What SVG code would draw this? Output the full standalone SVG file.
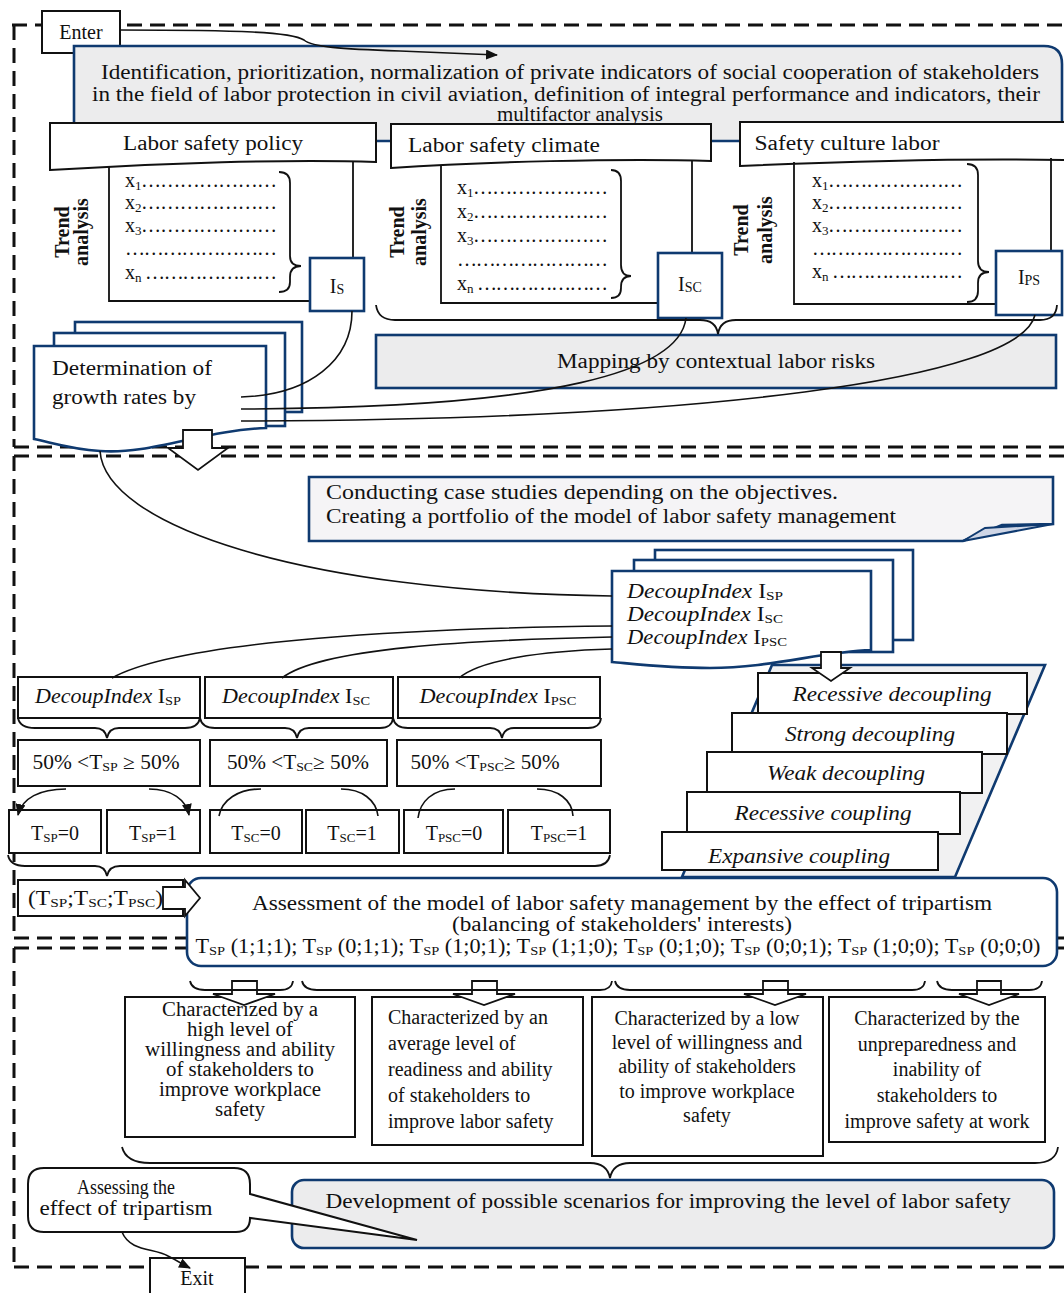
<svg xmlns="http://www.w3.org/2000/svg" width="1064" height="1293" viewBox="0 0 1064 1293">
<defs>
<style>
.t{font-family:"Liberation Serif","Times New Roman",serif;font-size:20px;fill:#111}
.c{text-anchor:middle}
.i{font-style:italic}
.b{font-weight:bold}
.s{font-size:13px}
.box{fill:#fff;stroke:#111;stroke-width:2}
.bl{fill:#fff;stroke:#0f3a70;stroke-width:2.6}
.gr{fill:#ececed}
.conn{fill:none;stroke:#111;stroke-width:1.6}
.dash{fill:none;stroke:#111;stroke-width:3;stroke-dasharray:15 8}
.br{fill:none;stroke:#111;stroke-width:1.8}
.ba{fill:#fff;stroke:#111;stroke-width:1.8}
</style>
<marker id="ah" viewBox="0 0 12 10" refX="11" refY="5" markerWidth="12" markerHeight="10" markerUnits="userSpaceOnUse" orient="auto"><path d="M0,0 L12,5 L0,10 Z" fill="#111"/></marker>
</defs>
<rect width="1064" height="1293" fill="#fff"/>

<g id="frames">
<path class="dash" d="M12,25 H1064 M14,25 V447 M14,447 H1064"/>
<path class="dash" d="M14,456 H1064 M14,456 V938 M14,938 H1064"/>
<path class="dash" d="M14,948 H1064 M14,948 V1267 M14,1267 H1064"/>
</g>

<g id="enter"><rect class="box" x="42" y="11" width="78" height="42"/><text class="t c" x="81" y="39">Enter</text></g>

<g id="title">
<path class="bl gr" d="M74,46 H1044 Q1062,46 1062,64 V141 H74 Z"/>
<text class="t c" x="570" y="79" font-size="21" textLength="938" lengthAdjust="spacingAndGlyphs">Identification, prioritization, normalization of private indicators of social cooperation of stakeholders</text>
<text class="t c" x="566" y="101" font-size="21" textLength="948" lengthAdjust="spacingAndGlyphs">in the field of labor protection in civil aviation, definition of integral performance and indicators, their</text>
<text class="t c" x="580" y="121" font-size="21" textLength="166" lengthAdjust="spacingAndGlyphs">multifactor analysis</text>
</g>

<g id="policy">
<path class="box" d="M50,123 H376 V162 C290,159 160,163 50,170 Z"/>
<text class="t c" x="213" y="150" font-size="22" textLength="180" lengthAdjust="spacingAndGlyphs">Labor safety policy</text>
<path class="br" d="M109,166 V301 H310 M353,162 V258"/>
<text class="t b" transform="translate(69,232) rotate(-90)" text-anchor="middle" font-size="21">Trend</text>
<text class="t b" transform="translate(88,232) rotate(-90)" text-anchor="middle" font-size="21">analysis</text>
<text class="t" x="125" y="187">x<tspan class="s" dy="3">1</tspan></text>
<text class="t" x="141" y="187" textLength="136" lengthAdjust="spacing">…………………</text>
<text class="t" x="125" y="209">x<tspan class="s" dy="3">2</tspan></text>
<text class="t" x="141" y="209" textLength="136" lengthAdjust="spacing">…………………</text>
<text class="t" x="125" y="232">x<tspan class="s" dy="3">3</tspan></text>
<text class="t" x="141" y="232" textLength="136" lengthAdjust="spacing">…………………</text>
<text class="t" x="125" y="255" textLength="152" lengthAdjust="spacing">……………………</text>
<text class="t" x="125" y="279">x<tspan class="s" dy="3">n</tspan></text>
<text class="t" x="145" y="279" textLength="132" lengthAdjust="spacing">…………………</text>
<path class="br" d="M279,172 Q290,172 290,183 V256 Q290,266 301,266 Q290,266 290,277 V282 Q290,292 279,292"/>
<rect class="bl" x="310" y="258" width="54" height="53"/>
<text class="t c" x="337" y="293" font-size="22">I<tspan font-size="14" dy="1">S</tspan></text>
</g>

<g id="climate">
<path class="box" d="M391,124 H711 V161 C620,158 480,162 391,168 Z"/>
<text class="t c" x="504" y="152" font-size="22" textLength="192" lengthAdjust="spacingAndGlyphs">Labor safety climate</text>
<path class="br" d="M441,165 V303 H658 M692,160 V253"/>
<text class="t b" transform="translate(404,232) rotate(-90)" text-anchor="middle" font-size="21">Trend</text>
<text class="t b" transform="translate(426,232) rotate(-90)" text-anchor="middle" font-size="21">analysis</text>
<text class="t" x="457" y="194">x<tspan class="s" dy="3">1</tspan></text>
<text class="t" x="473" y="194" textLength="135" lengthAdjust="spacing">…………………</text>
<text class="t" x="457" y="218">x<tspan class="s" dy="3">2</tspan></text>
<text class="t" x="473" y="218" textLength="135" lengthAdjust="spacing">…………………</text>
<text class="t" x="457" y="242">x<tspan class="s" dy="3">3</tspan></text>
<text class="t" x="473" y="242" textLength="135" lengthAdjust="spacing">…………………</text>
<text class="t" x="457" y="266" textLength="151" lengthAdjust="spacing">……………………</text>
<text class="t" x="457" y="290">x<tspan class="s" dy="3">n</tspan></text>
<text class="t" x="477" y="290" textLength="131" lengthAdjust="spacing">…………………</text>
<path class="br" d="M611,170 Q621,170 621,181 V265 Q621,276 631,276 Q621,276 621,287 V288 Q621,298 611,298"/>
<rect class="bl" x="658" y="253" width="64" height="65"/>
<text class="t c" x="690" y="291" font-size="22">I<tspan font-size="14" dy="1">SC</tspan></text>
</g>

<g id="culture">
<path class="box" d="M740,122 H1066 V160 C950,158 830,162 740,166 Z"/>
<text class="t c" x="847" y="150" font-size="22" textLength="185" lengthAdjust="spacingAndGlyphs">Safety culture labor</text>
<path class="br" d="M794,162 V304 H996 M1051,158 V251"/>
<text class="t b" transform="translate(748,230) rotate(-90)" text-anchor="middle" font-size="21">Trend</text>
<text class="t b" transform="translate(772,230) rotate(-90)" text-anchor="middle" font-size="21">analysis</text>
<text class="t" x="812" y="187">x<tspan class="s" dy="3">1</tspan></text>
<text class="t" x="828" y="187" textLength="135" lengthAdjust="spacing">…………………</text>
<text class="t" x="812" y="209">x<tspan class="s" dy="3">2</tspan></text>
<text class="t" x="828" y="209" textLength="135" lengthAdjust="spacing">…………………</text>
<text class="t" x="812" y="232">x<tspan class="s" dy="3">3</tspan></text>
<text class="t" x="828" y="232" textLength="135" lengthAdjust="spacing">…………………</text>
<text class="t" x="812" y="255" textLength="151" lengthAdjust="spacing">……………………</text>
<text class="t" x="812" y="278">x<tspan class="s" dy="3">n</tspan></text>
<text class="t" x="832" y="278" textLength="131" lengthAdjust="spacing">…………………</text>
<path class="br" d="M967,164 Q978,164 978,175 V261 Q978,272 989,272 Q978,272 978,283 V291 Q978,302 967,302"/>
<rect class="bl" x="996" y="251" width="66" height="64"/>
<text class="t c" x="1029" y="284" font-size="22">I<tspan font-size="14" dy="1">PS</tspan></text>
</g>

<g id="mapping">
<rect class="bl gr" x="376" y="335" width="680" height="53"/>
<text class="t c" x="716" y="368" font-size="22" textLength="318" lengthAdjust="spacingAndGlyphs">Mapping by contextual labor risks</text>
</g>

<g id="growth">
<rect class="bl" x="75" y="322" width="227" height="90"/>
<rect class="bl" x="54" y="333" width="231" height="93"/>
<path class="bl" d="M34,346 H266 V428 C205,430 150,455 100,451 C70,449 50,442 34,439 Z"/>
<text class="t" x="52" y="375" font-size="21" textLength="160" lengthAdjust="spacingAndGlyphs">Determination of</text>
<text class="t" x="52" y="404" font-size="21" textLength="144" lengthAdjust="spacingAndGlyphs">growth rates by</text>
</g>

<g id="casestudies">
<path class="bl" style="fill:#f5f4f6" d="M309,477 H1053 V524 L1002,525 L963,541 H309 Z"/>
<path fill="#cfd6e6" stroke="#0f3a70" stroke-width="2" d="M963,541 L985,528 L1053,524 Z"/>
<text class="t" x="326" y="499" textLength="512" lengthAdjust="spacingAndGlyphs">Conducting case studies depending on the objectives.</text>
<text class="t" x="326" y="523" textLength="570" lengthAdjust="spacingAndGlyphs">Creating a portfolio of the model of labor safety management</text>
</g>

<g id="decoupstack">
<rect class="bl" x="655" y="550" width="258" height="90"/>
<rect class="bl" x="634" y="560" width="259" height="92"/>
<path class="bl" d="M612,571 H871 V650 C820,652 770,668 710,668 C670,668 635,664 612,662 Z"/>
<text class="t" x="627" y="598" textLength="156" lengthAdjust="spacingAndGlyphs"><tspan class="i">DecoupIndex</tspan> I<tspan class="s" dy="2">SP</tspan></text>
<text class="t" x="627" y="621" textLength="156" lengthAdjust="spacingAndGlyphs"><tspan class="i">DecoupIndex</tspan> I<tspan class="s" dy="2">SC</tspan></text>
<text class="t" x="627" y="644" textLength="160" lengthAdjust="spacingAndGlyphs"><tspan class="i">DecoupIndex</tspan> I<tspan class="s" dy="2">PSC</tspan></text>
</g>

<g id="coupling">
<path class="bl" style="fill:#f1f1f2" d="M772,665 H1045 L955,877 H682 Z"/>
<rect class="box" x="758" y="673" width="269" height="41"/>
<text class="t i c" x="892" y="701" font-size="22" textLength="199" lengthAdjust="spacingAndGlyphs">Recessive decoupling</text>
<rect class="box" x="732" y="713" width="275" height="41"/>
<text class="t i c" x="870" y="741" font-size="22" textLength="170" lengthAdjust="spacingAndGlyphs">Strong decoupling</text>
<rect class="box" x="707" y="752" width="275" height="41"/>
<text class="t i c" x="846" y="780" font-size="22" textLength="158" lengthAdjust="spacingAndGlyphs">Weak decoupling</text>
<rect class="box" x="687" y="792" width="273" height="42"/>
<text class="t i c" x="823" y="820" font-size="22" textLength="177" lengthAdjust="spacingAndGlyphs">Recessive coupling</text>
<rect class="box" x="662" y="832" width="276" height="38"/>
<text class="t i c" x="799" y="863" font-size="22" textLength="182" lengthAdjust="spacingAndGlyphs">Expansive coupling</text>
</g>

<g id="decoupboxes">
<rect class="box" x="18" y="677" width="182" height="41"/>
<text class="t c" x="108" y="703" textLength="146" lengthAdjust="spacingAndGlyphs"><tspan class="i">DecoupIndex</tspan> I<tspan class="s" dy="2">SP</tspan></text>
<rect class="box" x="205" y="677" width="188" height="41"/>
<text class="t c" x="296" y="703" textLength="148" lengthAdjust="spacingAndGlyphs"><tspan class="i">DecoupIndex</tspan> I<tspan class="s" dy="2">SC</tspan></text>
<rect class="box" x="398" y="677" width="202" height="41"/>
<text class="t c" x="498" y="703" textLength="157" lengthAdjust="spacingAndGlyphs"><tspan class="i">DecoupIndex</tspan> I<tspan class="s" dy="2">PSC</tspan></text>

<rect class="box" x="18" y="740" width="182" height="46"/>
<text class="t c" x="106" y="769" textLength="147" lengthAdjust="spacingAndGlyphs">50% &lt;T<tspan class="s" dy="2">SP</tspan><tspan dy="-2"> ≥ 50%</tspan></text>
<rect class="box" x="210" y="740" width="177" height="46"/>
<text class="t c" x="298" y="769" textLength="142" lengthAdjust="spacingAndGlyphs">50% &lt;T<tspan class="s" dy="2">SC</tspan><tspan dy="-2">≥ 50%</tspan></text>
<rect class="box" x="397" y="740" width="204" height="46"/>
<text class="t c" x="485" y="769" textLength="149" lengthAdjust="spacingAndGlyphs">50% &lt;T<tspan class="s" dy="2">PSC</tspan><tspan dy="-2">≥ 50%</tspan></text>

<rect class="box" x="9" y="810" width="92" height="43"/>
<text class="t c" x="55" y="840">T<tspan class="s" dy="2">SP</tspan><tspan dy="-2">=0</tspan></text>
<rect class="box" x="107" y="810" width="93" height="43"/>
<text class="t c" x="153" y="840">T<tspan class="s" dy="2">SP</tspan><tspan dy="-2">=1</tspan></text>
<rect class="box" x="210" y="810" width="92" height="43"/>
<text class="t c" x="256" y="840">T<tspan class="s" dy="2">SC</tspan><tspan dy="-2">=0</tspan></text>
<rect class="box" x="306" y="810" width="93" height="43"/>
<text class="t c" x="352" y="840">T<tspan class="s" dy="2">SC</tspan><tspan dy="-2">=1</tspan></text>
<rect class="box" x="404" y="810" width="99" height="43"/>
<text class="t c" x="454" y="840">T<tspan class="s" dy="2">PSC</tspan><tspan dy="-2">=0</tspan></text>
<rect class="box" x="508" y="810" width="102" height="43"/>
<text class="t c" x="559" y="840">T<tspan class="s" dy="2">PSC</tspan><tspan dy="-2">=1</tspan></text>
</g>

<g id="tuple">
<rect class="box" x="18" y="880" width="165" height="36"/>
<text class="t" x="28" y="905" textLength="135" lengthAdjust="spacingAndGlyphs">(T<tspan class="s" dy="2">SP</tspan><tspan dy="-2">;T</tspan><tspan class="s" dy="2">SC</tspan><tspan dy="-2">;T</tspan><tspan class="s" dy="2">PSC</tspan><tspan dy="-2">)</tspan></text>
</g>

<g id="assessment">
<rect class="bl" x="187" y="878" width="870" height="88" rx="14"/>
<text class="t c" x="622" y="910" font-size="21" textLength="740" lengthAdjust="spacingAndGlyphs">Assessment of the model of labor safety management by the effect of tripartism</text>
<text class="t c" x="622" y="931" font-size="21" textLength="340" lengthAdjust="spacingAndGlyphs">(balancing of stakeholders' interests)</text>
<text class="t c" x="618" y="953" font-size="21" textLength="845" lengthAdjust="spacingAndGlyphs">T<tspan class="s" dy="2">SP</tspan><tspan dy="-2"> (1;1;1); T</tspan><tspan class="s" dy="2">SP</tspan><tspan dy="-2"> (0;1;1); T</tspan><tspan class="s" dy="2">SP</tspan><tspan dy="-2"> (1;0;1); T</tspan><tspan class="s" dy="2">SP</tspan><tspan dy="-2"> (1;1;0); T</tspan><tspan class="s" dy="2">SP</tspan><tspan dy="-2"> (0;1;0); T</tspan><tspan class="s" dy="2">SP</tspan><tspan dy="-2"> (0;0;1); T</tspan><tspan class="s" dy="2">SP</tspan><tspan dy="-2"> (1;0;0); T</tspan><tspan class="s" dy="2">SP</tspan><tspan dy="-2"> (0;0;0)</tspan></text>
</g>

<g id="level1">
<rect class="box" x="125" y="997" width="230" height="140"/>
<text class="t c" font-size="16" x="240" y="1016" textLength="156" lengthAdjust="spacingAndGlyphs">Characterized by a</text>
<text class="t c" font-size="16" x="240" y="1036" textLength="106" lengthAdjust="spacingAndGlyphs">high level of</text>
<text class="t c" font-size="16" x="240" y="1056" textLength="190" lengthAdjust="spacingAndGlyphs">willingness and ability</text>
<text class="t c" font-size="16" x="240" y="1076" textLength="148" lengthAdjust="spacingAndGlyphs">of stakeholders to</text>
<text class="t c" font-size="16" x="240" y="1096" textLength="162" lengthAdjust="spacingAndGlyphs">improve workplace</text>
<text class="t c" font-size="16" x="240" y="1116" textLength="50" lengthAdjust="spacingAndGlyphs">safety</text>
</g>
<g id="level2">
<rect class="box" x="372" y="997" width="211" height="148"/>
<text class="t" font-size="21" x="388" y="1024">Characterized by an</text>
<text class="t" font-size="21" x="388" y="1050">average level of</text>
<text class="t" font-size="21" x="388" y="1076">readiness and ability</text>
<text class="t" font-size="21" x="388" y="1102">of stakeholders to</text>
<text class="t" font-size="21" x="388" y="1128">improve labor safety</text>
</g>
<g id="level3">
<rect class="box" x="592" y="997" width="231" height="159"/>
<text class="t c" font-size="21" x="707" y="1025">Characterized by a low</text>
<text class="t c" font-size="21" x="707" y="1049">level of willingness and</text>
<text class="t c" font-size="21" x="707" y="1073">ability of stakeholders</text>
<text class="t c" font-size="21" x="707" y="1098">to improve workplace</text>
<text class="t c" font-size="21" x="707" y="1122">safety</text>
</g>
<g id="level4">
<rect class="box" x="829" y="997" width="216" height="145"/>
<text class="t c" font-size="21" x="937" y="1025">Characterized by the</text>
<text class="t c" font-size="21" x="937" y="1051">unpreparedness and</text>
<text class="t c" font-size="21" x="937" y="1076">inability of</text>
<text class="t c" font-size="21" x="937" y="1102">stakeholders to</text>
<text class="t c" font-size="21" x="937" y="1128">improve safety at work</text>
</g>

<g id="development">
<rect class="bl gr" x="292" y="1180" width="762" height="68" rx="12"/>
<text class="t c" x="668" y="1208" font-size="21" textLength="685" lengthAdjust="spacingAndGlyphs">Development of possible scenarios for improving the level of labor safety</text>
</g>

<g id="assessing">
<path class="box" d="M44,1168 H234 Q250,1168 250,1184 V1194 L417,1240 L250,1218 Q250,1232 236,1232 H44 Q28,1232 28,1216 V1184 Q28,1168 44,1168 Z"/>
<text class="t c" x="126" y="1194" font-size="21" textLength="98" lengthAdjust="spacingAndGlyphs">Assessing the</text>
<text class="t c" x="126" y="1215" font-size="21" textLength="173" lengthAdjust="spacingAndGlyphs">effect of tripartism</text>
</g>

<g id="exit"><rect class="box" x="150" y="1258" width="95" height="40"/><text class="t c" x="197" y="1285">Exit</text></g>

<g id="blockarrows">
<path class="ba" d="M183,430 H212 V448 H228 L198,470 L168,448 H183 Z"/>
<path class="ba" d="M821,652 H841 V668 H850 L831,681 L812,668 H821 Z"/>
<path class="ba" d="M163,887 H185 V880 L200,898 L185,916 V909 H163 Z"/>
<path class="ba" d="M232,981 H257 V994 H275 L244,1005 L213,994 H232 Z"/>
<path class="ba" d="M472,981 H497 V994 H515 L484,1005 L453,994 H472 Z"/>
<path class="ba" d="M763,981 H788 V994 H806 L775,1005 L744,994 H763 Z"/>
<path class="ba" d="M977,981 H1001 V994 H1019 L989,1005 L959,994 H977 Z"/>
</g>

<g id="connectors">
<path class="conn" marker-end="url(#ah)" d="M120,30 C240,30 292,32 304,40 C312,47 340,49 400,51 L497,55"/>
<path class="conn" d="M352,311 C352,360 310,395 241,397"/>
<path class="conn" d="M686,318 C680,370 560,408 241,409"/>
<path class="conn" d="M1035,315 C1020,380 700,420 241,421"/>
<path class="conn" d="M100,451 C105,525 300,592 612,596"/>
<path class="conn" d="M612,626 C420,628 180,640 112,678"/>
<path class="conn" d="M612,637 C470,640 320,648 282,678"/>
<path class="conn" d="M612,649 C540,651 480,660 459,678"/>
<path class="conn" marker-end="url(#ah)" d="M66,789 C40,789 22,798 18,815"/>
<path class="conn" marker-end="url(#ah)" d="M149,789 C172,789 186,800 189,815"/>
<path class="conn" d="M261,789 C238,789 222,800 219,816"/>
<path class="conn" d="M341,789 C362,789 376,800 378,816"/>
<path class="conn" d="M455,789 C432,789 420,802 418,818"/>
<path class="conn" d="M537,789 C558,789 572,800 573,816"/>
<path class="conn" marker-end="url(#ah)" d="M122,1232 C130,1252 155,1248 168,1256 C178,1261 182,1264 190,1268"/>
<path class="br" d="M376,305 Q378,320 395,320 H700 Q716,320 718,334 Q720,320 736,320 H1040 Q1056,320 1057,305"/>
<path class="br" d="M18,718 Q20,728 35,728 H95 Q105,728 107,738 Q109,728 119,728 H185 Q198,728 200,718"/>
<path class="br" d="M200,718 Q202,728 215,728 H285 Q295,728 297,738 Q299,728 309,728 H380 Q392,728 393,718"/>
<path class="br" d="M393,718 Q395,728 408,728 H490 Q500,728 502,738 Q504,728 514,728 H588 Q600,728 601,718"/>
<path class="br" d="M8,855 Q10,866 25,866 H95 Q105,866 107,876 Q109,866 120,866 H595 Q608,866 610,855"/>
<path class="br" d="M190,981 Q192,990 205,990 H280 Q292,990 293,981"/>
<path class="br" d="M302,981 Q304,990 317,990 H600 Q611,990 612,981"/>
<path class="br" d="M615,981 Q617,990 630,990 H912 Q924,990 925,981"/>
<path class="br" d="M937,981 Q939,990 952,990 H1029 Q1041,990 1042,981"/>
<path class="br" d="M122,1147 Q126,1163 150,1163 H590 Q607,1163 610,1178 Q613,1163 630,1163 H1035 Q1056,1163 1058,1147"/>
</g>
</svg>
